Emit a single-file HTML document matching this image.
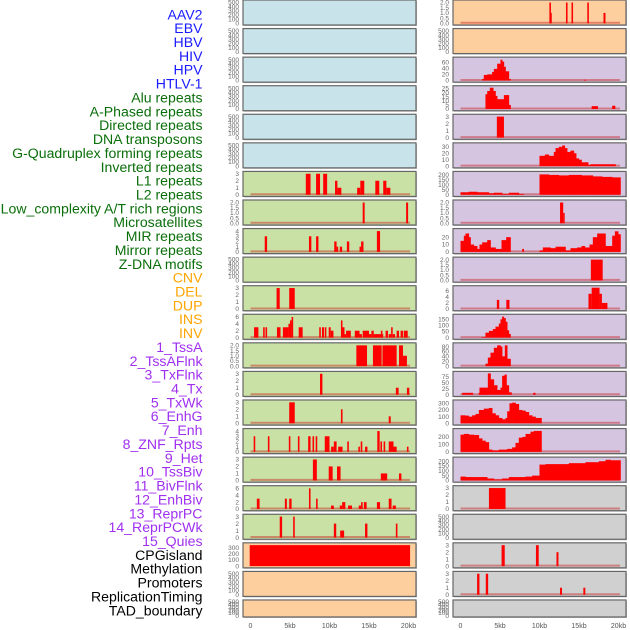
<!DOCTYPE html>
<html><head><meta charset="utf-8"><style>
html,body{margin:0;padding:0;background:#fff;}
svg{display:block;}
</style></head><body>
<svg id="chart" width="630" height="630" viewBox="0 0 630 630" xmlns="http://www.w3.org/2000/svg"></svg>
<script>
const labels=["AAV2","EBV","HBV","HIV","HPV","HTLV-1","Alu repeats","A-Phased repeats","Directed repeats","DNA transposons","G-Quadruplex forming repeats","Inverted repeats","L1 repeats","L2 repeats","Low_complexity A/T rich regions","Microsatellites","MIR repeats","Mirror repeats","Z-DNA motifs","CNV","DEL","DUP","INS","INV","1_TssA","2_TssAFlnk","3_TxFlnk","4_Tx","5_TxWk","6_EnhG","7_Enh","8_ZNF_Rpts","9_Het","10_TssBiv","11_BivFlnk","12_EnhBiv","13_ReprPC","14_ReprPCWk","15_Quies","CPGisland","Methylation","Promoters","ReplicationTiming","TAD_boundary"];
const labelGroup=["blue","blue","blue","blue","blue","blue","green","green","green","green","green","green","green","green","green","green","green","green","green","orange","orange","orange","orange","orange","purple","purple","purple","purple","purple","purple","purple","purple","purple","purple","purple","purple","purple","purple","purple","black","black","black","black","black"];
const xTicks=[0,5,10,15,20];
const xTickLabels=["0","5kb","10kb","15kb","20kb"];
const panelBg=["b","b","b","b","b","b","g","g","g","g","g","g","g","g","g","g","g","g","g","o","o","o",
 "o","o","p","p","p","p","p","p","p","p","p","p","p","p","p","p","p","y","y","y","y","y"];
const E=["0","100","200","300","400","500"];
const T3=["0","1","2","3"], T4=["0","1","2","3","4"], T2=["0.0","0.5","1.0","1.5","2.0"], T6=["0","2","4","6"];
const panelTicks=[E,E,E,E,E,E,T3,T2,T4,E,T3,T6,T2,T3,T3,T4,T3,T6,T3,["0","100","200","300"],E,E,
 T2,E,["0","20","40","60"],["0","5","10","15","20","25"],T3,["0","10","20","30"],["0","50","100","150","200"],T2,["0","10","20"],T2,T6,["0","50","100","150"],["0","20","40","60","80"],["0","25","50","75"],["0","100","200","300"],["0","100","200"],["0","50","100","150","200"],T3,E,T3,T3,E];
const panelMax=[510,510,510,510,510,510,3.05,2.05,4.1,510,3.05,6.2,2.05,3.05,3.05,4.1,3.05,6.2,3.05,345,510,510,
 2.05,510,70,26,3.05,33,215,2.05,29,2.05,7,175,87,90,320,285,222,3.05,510,3.05,3.05,510];
const spikeStart=[[],[],[],[],[],[],
 [7.0,8.3,9.2,10.7,11.0,13.5,13.9,15.8,16.8,17.2],
 [14.2,19.7],
 [1.8,7.4,8.3,10.6,10.9,11.3,12.2,13.8,14.0,16.0],
 [],
 [3.3,4.9],
 [0.45,1.6,1.9,3.35,4.1,4.8,5.0,5.2,6.1,8.7,9.05,9.4,9.9,10.15,11.45,11.6,11.9,12.1,13.2,13.8,14.2,15.0,15.3,15.6,16.5,17.1,17.5,17.8,18.0,18.5,19.0,19.4],
 [13.4,15.5,16.7,18.8,19.3],
 [8.8,18.4,19.8],
 [4.9,11.45,17.5],
 [0.4,2.2,4.85,6.0,7.3,7.85,8.25,9.4,10.2,10.55,11.1,12.25,13.65,13.95,14.5,16.05,16.45,16.85,17.5,18.1,19.8],
 [7.9,9.9,10.95,16.5,18.8],
 [0.8,4.35,4.9,7.4,8.3,10.2,11.3,11.6,12.35,13.7,14.0,14.35,16.0,17.5,18.0],
 [3.7,5.4,10.55,11.35,14.5,18.4],
 [-0.1],[],[],
 [11.25,11.3,13.35,14.05,16.05,18.1],
 [],
 [15.6],
 [16.6,19.2],
 [4.6],
 [],[],
 [12.6,13.0],
 [],
 [16.5],
 [4.6,5.8,16.2,16.6,17.6,17.9],
 [],[],[0.2,2.3,9.2],[],[],[],
 [3.6],[],
 [5.2,9.55,12.15],
 [2.1,3.2,12.6,15.55],
 []];
const spikeEnd=[[],[],[],[],[],[],
 [7.6,8.8,9.7,11.0,11.5,13.9,14.4,16.3,17.2,17.7],
 [14.45,19.95],
 [2.1,7.7,8.6,10.9,11.1,11.6,12.5,14.0,14.3,16.4],
 [],
 [3.7,5.6],
 [1.0,1.8,2.1,3.8,4.8,5.0,5.2,5.4,6.6,8.9,9.3,9.6,10.15,10.5,11.6,11.9,12.1,12.7,13.8,14.1,15.0,15.3,15.6,16.8,16.7,17.4,17.8,18.0,18.3,18.8,19.3,19.9],
 [14.75,16.6,18.5,19.3,19.8],
 [9.1,18.75,20.1],
 [5.6,11.65,17.75],
 [0.6,2.4,5.05,6.2,7.6,8.05,8.45,10.0,10.55,10.9,11.65,12.45,13.85,14.15,14.8,16.35,16.65,17.05,18.1,18.5,20.0],
 [8.4,10.4,11.4,17.3,19.1],
 [1.15,4.6,5.2,7.6,8.5,10.55,11.6,12.0,12.85,14.0,14.2,14.7,16.4,17.85,18.4],
 [4.0,5.6,10.85,11.85,14.8,18.6],
 [20.2],[],[],
 [11.45,11.55,13.55,14.25,16.25,18.35],
 [],
 [15.9],
 [17.4,19.6],
 [5.5],
 [],[],
 [13.0,13.15],
 [],
 [18.0],
 [4.9,6.2,16.6,17.6,17.9,18.6],
 [],[],[1.6,3.3,9.5],[],[],[],
 [5.7],[],
 [5.6,9.9,12.4],
 [2.4,3.5,12.85,15.8],
 []];
const spikeVal=[[],[],[],[],[],[],
 [3,3,3,2,1,1,2,2,2,1],
 [2,2],
 [3,3,3,2,1,1,2,1,2,4],
 [],
 [3,3],
 [3,3,3,3,3,4,5,6,3,3,3,3,3,2,5,3,1,2,2,1,2,1,2,1,2,2,1,3,1,2,2,2],
 [2,2,2,2,1],
 [3,1,1],
 [3,2,1],
 [3,3,3,3,3,3,3,3,1,2,1,2,1,2,1,4,2,2,2,1,1],
 [3,2,2,1,1],
 [3,3,3,6,3,1,1,2,1,1,2,2,2,3,1],
 [3,3,2,1,2,2],
 [340],[],[],
 [2,1,2,2,2,1],
 [],
 [2],
 [3.5,4],
 [3],
 [],[],
 [2,1],
 [],
 [2],
 [3,3,5,7,5,2],
 [],[],[8,8,8],[],[],[],
 [3],[],
 [3,3,2],
 [3,3,1,1],
 []];
const profEdges=[[],[],[],[],[],[],[],[],[],[],[],[],[],[],[],[],[],[],[],[],[],[],
 [],[],
 [2.74,2.95,3.38,4.0,4.22,4.64,5.06,5.27,5.49,5.7,6.12,6.33],
 [3.16,3.38,3.71,4.14,4.43,4.64,5.27,5.49,5.91,6.12,6.33],
 [],
 [10.0,10.68,11.18,11.81,12.03,12.45,12.87,13.2,13.5,13.92,14.35,14.64,14.98,15.32,15.82,16.16,16.46,19.62],
 [0.0,1.05,2.11,3.59,4.22,5.27,6.12,7.38,8.0,10.0,11.18,12.45,13.71,15.32,16.75,17.93,19.2,20.25],
 [],
 [0.0,0.42,0.63,1.05,1.27,1.69,2.11,2.4,2.74,3.38,3.8,4.43,5.19,5.78,6.33,7.81,8.0,10.0,10.42,11.39,12.03,12.66,13.29,13.92,14.77,15.32,15.74,16.33,16.75,17.3,17.93,18.35,18.78,19.2,19.54,19.96,20.25],
 [],[],
 [2.66,3.16,3.59,4.09,4.43,4.85,5.06,5.27,5.48,5.7,5.91,6.12,6.33],
 [3.16,3.46,3.8,4.22,4.64,5.06,5.27,5.61,5.91,6.33],
 [2.4,3.46,3.8,4.22,4.64,5.06,5.27,5.57,5.82,6.12,6.46,6.75],
 [0.0,0.63,1.05,1.48,1.9,2.32,2.95,3.59,4.01,4.43,4.85,5.27,5.7,5.91,6.2,6.54,6.96,7.38,7.81,8.23,8.65,9.07,9.49,10.25],
 [0.0,0.42,1.05,1.69,2.32,2.74,3.16,3.59,4.01,4.85,5.91,6.54,6.96,7.38,7.81,8.23,8.86,9.28,9.92,10.25],
 [0.0,0.63,3.38,4.22,5.27,6.12,8.23,9.07,10.0,10.76,13.71,15.82,17.51,18.35,18.99,20.25],
 [],[],[],[],[]];
const profVals=[[],[],[],[],[],[],[],[],[],[],[],[],[],[],[],[],[],[],[],[],[],[],
 [],[],
 [5,18,20,28,38,55,68,62,45,30,5],
 [18,22,26,22,16,12,12,17,17,5],
 [],
 [16,18,16,22,28,30,32,28,22,24,20,12,10,6,6,2,3],
 [25,30,25,15,20,8,20,8,0,205,200,195,200,195,185,180,175],
 [],
 [15,22,25,20,10,8,4,10,13,16,6,4,16,20,0,4,0,2,6,5,7,7,2,5,6,8,6,10,20,25,25,8,8,22,28,24],
 [],[],
 [5,40,55,70,90,115,150,172,160,130,60,30],
 [10,35,55,75,85,80,40,85,30],
 [30,90,65,40,20,30,80,85,40,10,0],
 [120,115,100,120,140,200,220,230,150,120,80,60,80,180,300,310,290,200,190,170,120,100,80],
 [230,240,230,225,180,150,130,30,20,30,40,60,120,190,200,240,270,280,280],
 [40,35,20,10,20,35,40,50,165,170,180,190,200,215,210],
 [],[],[],[],[]];

const svg=document.getElementById('chart');
const NS='http://www.w3.org/2000/svg';
function mk(tag,attrs,parent){const e=document.createElementNS(NS,tag);for(const k in attrs)e.setAttribute(k,attrs[k]);(parent||svg).appendChild(e);return e;}
const colorMap={blue:"#1a1aff",green:"#0a6e0a",orange:"#ffa500",purple:"#a030f0",black:"#000"};
const bgMap={b:"#c8e3ea",g:"#c9e1a4",o:"#fecf9e",p:"#d6c5e1",y:"#d0d0d0"};

labels.forEach((t,i)=>{
  const el=mk('text',{x:202.5,y:(19.3+i*13.86).toFixed(1),'text-anchor':'end','font-family':'Liberation Sans, sans-serif','font-size':'14.1',fill:colorMap[labelGroup[i]]});
  el.textContent=t;
  
  
});

function xScale(col,kb){return (col===0?250.5:460.5)+kb*7.9;}

for(let p=0;p<44;p++){
  const col=p<22?0:1, r=p%22;
  const top=r*28.57, h=(r===21?17:25);
  const left=col===0?243:453, w=173;
  const g=mk('g',{});
  
  
  mk('rect',{x:left+1,y:top+1,width:w,height:h,fill:'#bbb'},g);
  const bg=mk('rect',{x:left,y:top,width:w,height:h,fill:bgMap[panelBg[p]],stroke:'#666','stroke-width':1.2},g);
  
  
  const base=top+h*0.932, span=h*0.852, mx=panelMax[p];
  const yS=v=>base-v/mx*span;
  panelTicks[p].forEach(t=>{
    const tt=mk('text',{x:left-4,y:(yS(parseFloat(t))+2.2).toFixed(1),'text-anchor':'end','font-family':'Liberation Sans, sans-serif','font-size':'6.5',fill:'#666'},g);
    tt.textContent=t;
    
    
  });
  const hasData=spikeVal[p].length>0||profVals[p].length>0;
  if(hasData && p!==19){
    const bl=mk('line',{x1:xScale(col,0),x2:xScale(col,20.2),y1:base-0.5,y2:base-0.5,stroke:'rgba(200,30,30,0.45)','stroke-width':2},g);
    
    
  }
  const ed=profEdges[p], pv=profVals[p];
  for(let i=0;i<pv.length;i++){
    if(pv[i]<=0)continue;
    const x1=xScale(col,ed[i]),x2=xScale(col,ed[i+1]);
    const b=mk('rect',{x:x1,y:yS(pv[i]),width:Math.max(0.8,x2-x1+0.3),height:base-yS(pv[i]),fill:'#ff0000'},g);
    
    
  }
  const ss=spikeStart[p], se=spikeEnd[p], sv=spikeVal[p];
  for(let i=0;i<sv.length;i++){
    const x1=xScale(col,ss[i]),x2=xScale(col,se[i]);
    const b=mk('rect',{x:x1,y:yS(sv[i]),width:Math.max(1.5,x2-x1),height:base-yS(sv[i]),fill:'#ff0000'},g);
    
    
  }
}
[0,1].forEach(col=>{
  xTicks.forEach((k,i)=>{
    const t=mk('text',{x:xScale(col,k),y:628,'text-anchor':'middle','font-family':'Liberation Sans, sans-serif','font-size':'7',fill:'#555'});
    t.textContent=xTickLabels[i];
    
    
  });
});
</script>
</body></html>
